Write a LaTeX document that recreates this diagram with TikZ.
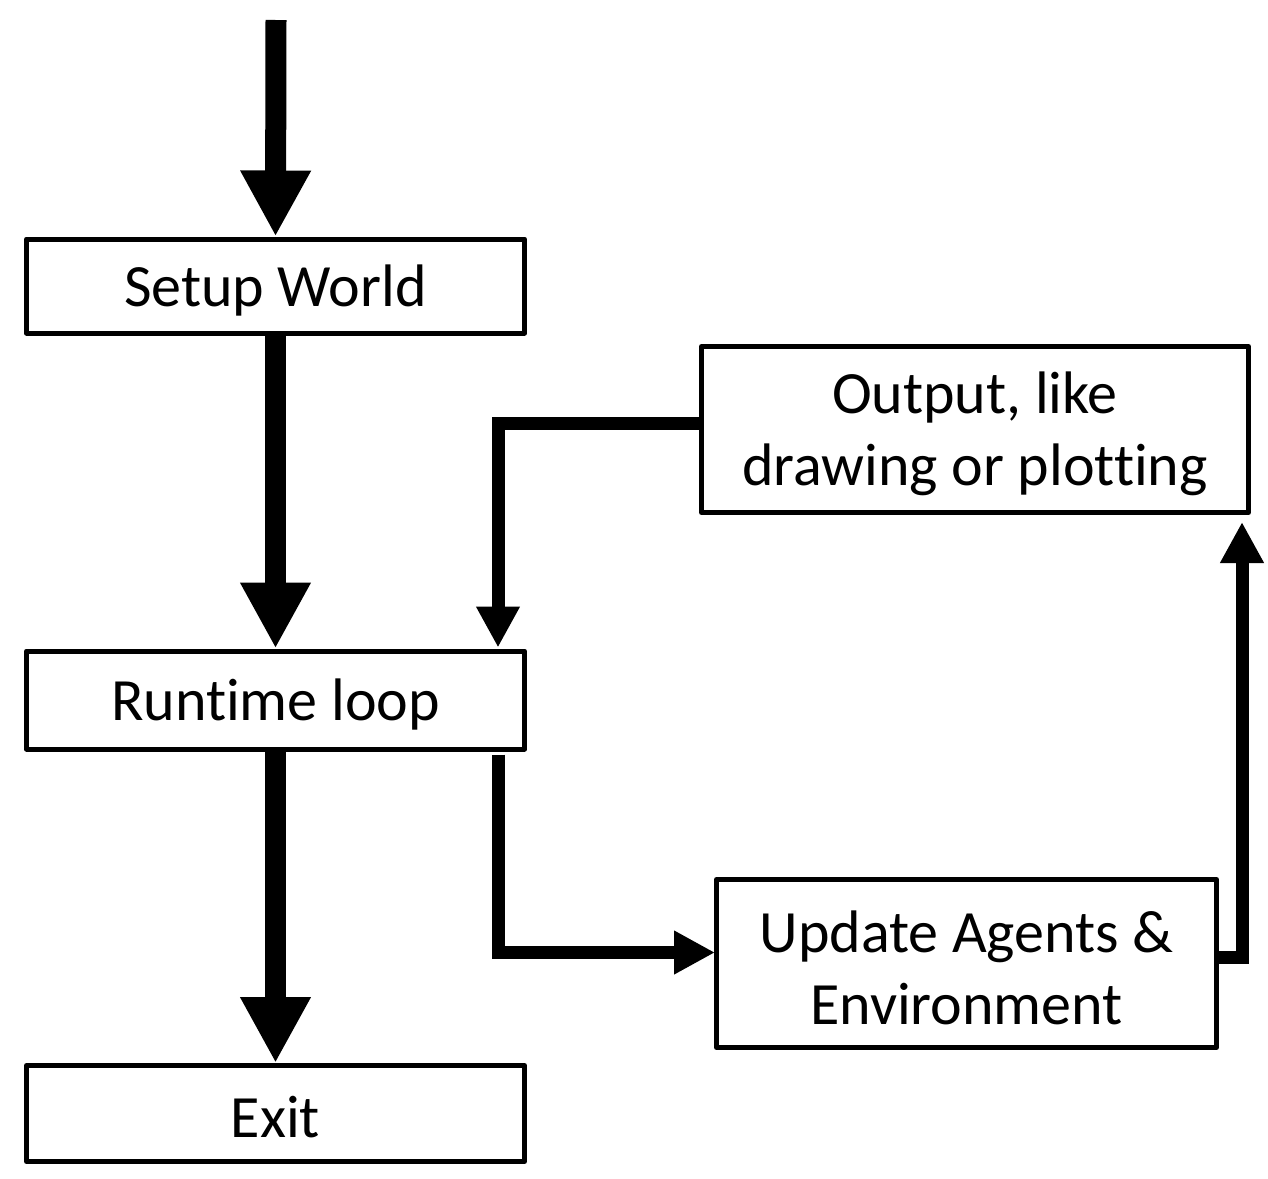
\documentclass[tikz,border=0pt]{standalone}
\usepackage{fontspec}
\setmainfont{Carlito}[Ligatures={NoCommon}]
\usetikzlibrary{arrows.meta}
\begin{document}
\begin{tikzpicture}[x=1pt,y=-1pt,
  box/.style={draw, line width=5pt, line join=round, fill=white, inner sep=0pt},
  boxtext/.style={label={[yshift=-4pt, align=center, inner sep=0pt, font=\fontsize{60}{72}\selectfont]center:#1}},
  mainarrow/.style={line width=21pt, -{Triangle[width=66pt,length=66pt]}},
  looparrow/.style={line width=13pt, -{Triangle[width=41pt,length=41pt]}}]
\useasboundingbox (0,0) rectangle (1268,1178);
\node[box, minimum width=498pt, minimum height=94pt, boxtext={Setup World}] (setup) at (275.5,286) {};
\node[box, minimum width=498pt, minimum height=98pt, boxtext={Runtime loop}] (runtime) at (275.5,700) {};
\node[box, minimum width=498pt, minimum height=96pt, boxtext={Exit}] (exit) at (275.5,1113.5) {};
\node[box, minimum width=547pt, minimum height=166pt, boxtext={Output, like\\drawing or plotting}] (output) at (975,429.5) {};
\node[box, minimum width=500pt, minimum height=168pt, boxtext={Update Agents \&\\Environment}] (update) at (966.5,963.5) {};
\coordinate (start) at (276,20);
\draw[mainarrow] (start) -- (setup.north);
\draw[mainarrow] (setup.south) -- (runtime.north);
\draw[mainarrow] (runtime.south) -- (exit.north);
\draw[looparrow] ([yshift=6pt]output.west) -| ([xshift=-29pt,yshift=1pt]runtime.north east);
\draw[looparrow] ([xshift=-29pt,yshift=-3pt]runtime.south east) |- ([yshift=11pt,xshift=1pt]update.west);
\draw[looparrow] ([yshift=6pt]update.east) -| ([xshift=-9pt,yshift=-7pt]output.south east);
\end{tikzpicture}
\end{document}
